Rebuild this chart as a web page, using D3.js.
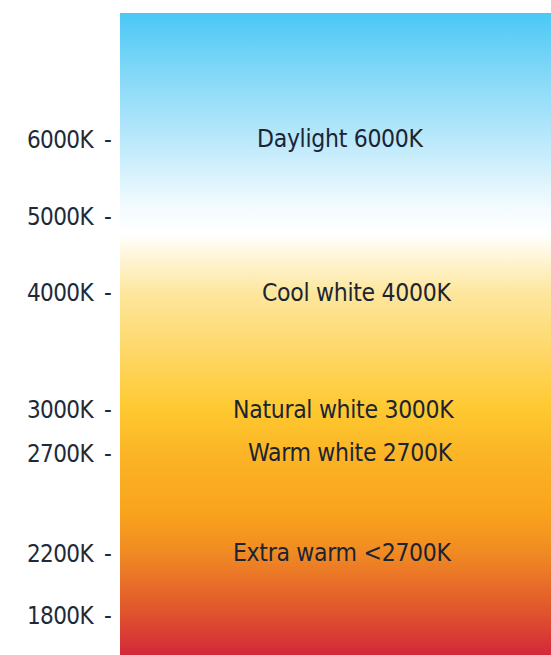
<!DOCTYPE html>
<html><head><meta charset="utf-8">
<script src="https://cdn.jsdelivr.net/npm/d3@7"></script>
<style>body{margin:0;background:#fff}svg{display:block}</style>
</head><body>
<svg id="c" width="551" height="655"></svg>
<script>
// Data
const tickValues = [6000, 5000, 4000, 3000, 2700, 2200, 1800];
const tickLabels = ["6000K", "5000K", "4000K", "3000K", "2700K", "2200K", "1800K"];
const bandNames = ["Daylight 6000K", "Cool white 4000K", "Natural white 3000K", "Warm white 2700K", "Extra warm <2700K"];
const bandValues = [6000, 4000, 3000, 2700, 2200];
// layout (not data)
const tickFrac = [0.196, 0.316, 0.435, 0.617, 0.685, 0.841, 0.938];
const labelStart = [257, 262, 233, 248, 233];

const bar = {x0: 120, x1: 551, y0: 13, y1: 655};
const svg = d3.select("#c");
const y = d3.scaleLinear()
  .domain(tickValues)
  .range(tickFrac.map(f => bar.y0 + f * (bar.y1 - bar.y0)));

const defs = svg.append("defs");
const g = defs.append("linearGradient").attr("id", "grad")
  .attr("x1", 0).attr("y1", 0).attr("x2", 0).attr("y2", 1);
const stops = [
  [0.00, "#4ac8f5"],
  [0.10, "#86d9f8"],
  [0.196, "#b9e8fb"],
  [0.30, "#f2fbfe"],
  [0.345, "#ffffff"],
  [0.38, "#fff5d8"],
  [0.435, "#fde79e"],
  [0.53, "#fed766"],
  [0.617, "#fec930"],
  [0.685, "#fbb526"],
  [0.78, "#f9a31d"],
  [0.841, "#f08a23"],
  [0.938, "#e0512e"],
  [1.00, "#d3283a"]
];
g.selectAll("stop").data(stops).enter().append("stop")
  .attr("offset", d => d[0]).attr("stop-color", d => d[1]);

svg.append("rect").attr("x", bar.x0).attr("y", bar.y0)
  .attr("width", bar.x1 - bar.x0).attr("height", bar.y1 - bar.y0)
  .attr("fill", "url(#grad)");

const font = "'DejaVu Sans Condensed', sans-serif";
const axis = d3.axisLeft(y).tickValues(tickValues)
  .tickFormat((d, i) => tickLabels[i]).tickSize(0).tickPadding(0);
const ax = svg.append("g").call(axis);
ax.select(".domain").remove();
ax.selectAll(".tick text").attr("x", 93).attr("dy", "0.35em")
  .attr("font-family", font).attr("font-size", 24).attr("fill", "#1e2a3a")
  .attr("letter-spacing", -0.6).attr("text-anchor", "end");
ax.selectAll(".tick").append("text").text("-")
  .attr("x", 104).attr("dy", "0.35em").attr("font-family", font)
  .attr("font-size", 24).attr("fill", "#1e2a3a").attr("text-anchor", "start");

svg.selectAll(".band").data(bandNames).enter().append("text")
  .attr("class", "band")
  .attr("x", (d, i) => labelStart[i])
  .attr("y", (d, i) => y(bandValues[i]))
  .attr("dy", "0.35em")
  .attr("font-family", font).attr("font-size", 24.5).attr("fill", "#1b2433")
  .attr("letter-spacing", -0.3)
  .text(d => d);
</script>
</body></html>
